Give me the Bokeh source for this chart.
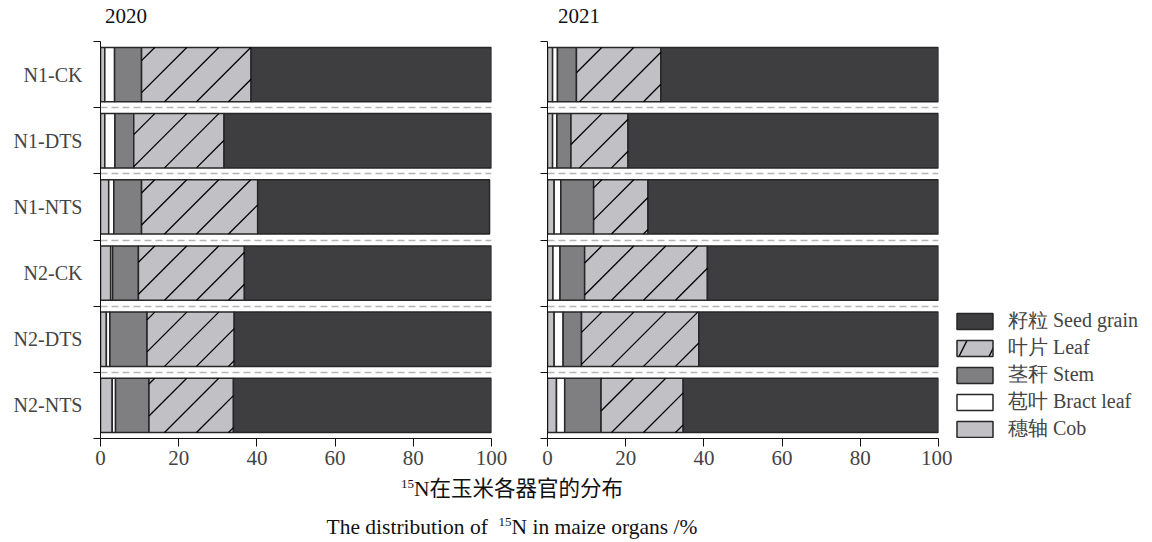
import math
from bokeh.plotting import figure
from bokeh.models import (ColumnDataSource, Range1d, FixedTicker, Legend, LegendItem, Div)
from bokeh.layouts import row, column
from bokeh.embed import file_html
from bokeh.resources import INLINE

categories = ["N1-CK", "N1-DTS", "N1-NTS", "N2-CK", "N2-DTS", "N2-NTS"]
components = ["cob", "bract", "stem", "leaf", "seed"]
legend_order = ["seed", "leaf", "stem", "bract", "cob"]
legend_labels = {"seed": "籽粒 Seed grain", "leaf": "叶片 Leaf", "stem": "茎秆 Stem",
                 "bract": "苞叶 Bract leaf", "cob": "穗轴 Cob"}
x_ticks = [0, 20, 40, 60, 80, 100]
years = ["2020", "2021"]

# 2020
cob_2020 = [1.1, 1.1, 2.1, 2.6, 1.5, 3.0]
bract_2020 = [2.5, 2.6, 1.3, 0.5, 0.9, 0.85]
stem_2020 = [6.9, 4.8, 7.1, 6.6, 9.5, 8.55]
leaf_2020 = [28.0, 23.1, 29.7, 27.1, 22.3, 21.6]
seed_2020 = [61.5, 68.4, 59.3, 63.2, 65.8, 66.0]

# 2021
cob_2021 = [1.3, 1.3, 1.7, 1.4, 1.7, 2.3]
bract_2021 = [1.25, 1.1, 1.7, 1.8, 2.3, 2.1]
stem_2021 = [4.85, 3.6, 8.4, 6.3, 4.7, 9.3]
leaf_2021 = [21.6, 14.6, 13.9, 31.4, 30.0, 21.0]
seed_2021 = [71.0, 79.4, 74.3, 59.1, 61.3, 65.3]

FONT = "'Liberation Serif', 'Noto Sans CJK SC'"
fills = {"cob": "#c1c0c5", "bract": "#ffffff", "stem": "#7f7f81", "leaf": "#c1c0c5", "seed": "#3e3e40"}
OUTLINE = "#262626"
BAR_H = 0.82
FRAME_W, FRAME_H = 391, 397

ypos = [i + 0.5 for i in range(len(categories))]
d2020 = dict(cob=cob_2020, bract=bract_2020, stem=stem_2020, leaf=leaf_2020, seed=seed_2020)
d2021 = dict(cob=cob_2021, bract=bract_2021, stem=stem_2021, leaf=leaf_2021, seed=seed_2021)


def stack(p, src, legend_hatch=False):
    return p.hbar_stack(components, y="y", height=BAR_H, source=src,
                        fill_color=[fills[c] for c in components],
                        line_color=OUTLINE, line_width=1.5,
                        hatch_pattern=["/" if (legend_hatch and c == "leaf") else " " for c in components],
                        hatch_color="#000000", hatch_weight=1.4, hatch_scale=60)


def leaf_hatch(data):
    """45-degree diagonal hatch lines inside each leaf segment (derived from the data)."""
    px_x = FRAME_W / 100.0
    px_y = FRAME_H / float(len(categories))
    run = BAR_H * px_y / px_x          # x-extent of one 45-degree line across the bar
    step = 32.0 / px_x                  # horizontal spacing of the lines
    x0s, y0s, x1s, y1s = [], [], [], []
    for i, yc in enumerate(ypos):
        left = data["cob"][i] + data["bract"][i] + data["stem"][i]
        right = left + data["leaf"][i]
        yb, yt = yc + BAR_H / 2, yc - BAR_H / 2
        k = math.floor((left - run) / step)
        while k * step < right:
            xb = k * step
            t0 = max(0.0, (left - xb) / run)
            t1 = min(1.0, (right - xb) / run)
            if t1 > t0:
                x0s.append(xb + t0 * run); y0s.append(yb + t0 * (yt - yb))
                x1s.append(xb + t1 * run); y1s.append(yb + t1 * (yt - yb))
            k += 1
    return dict(x0=x0s, y0=y0s, x1=x1s, y1=y1s)


def make_panel(data, show_labels, width, border_left, border_right):
    src = ColumnDataSource(dict(y=ypos, **data))
    p = figure(width=width, height=448, output_backend="svg", toolbar_location=None,
               x_range=Range1d(0, 100), y_range=Range1d(len(categories), 0),
               min_border_left=border_left, min_border_right=border_right,
               min_border_top=11, min_border_bottom=40)
    stack(p, src)
    p.segment(x0="x0", y0="y0", x1="x1", y1="y1", source=ColumnDataSource(leaf_hatch(data)),
              line_color="#000000", line_width=1.3)
    p.outline_line_color = None

    p.xaxis.ticker = FixedTicker(ticks=x_ticks)
    p.xaxis.major_tick_out = 8
    p.xaxis.major_tick_in = 0
    p.xaxis.minor_tick_line_color = None
    p.xaxis.major_label_text_font = FONT
    p.xaxis.major_label_text_font_size = "21px"
    p.xaxis.major_label_standoff = 4
    p.xaxis.axis_line_color = "#111111"
    p.xaxis.major_tick_line_color = "#111111"

    boundaries = list(range(len(categories) + 1))
    if show_labels:
        p.yaxis.ticker = FixedTicker(ticks=ypos, minor_ticks=boundaries)
        p.yaxis.major_label_overrides = {y: c for y, c in zip(ypos, categories)}
        p.yaxis.major_label_text_font = FONT
        p.yaxis.major_label_text_font_size = "20px"
        p.yaxis.major_label_standoff = 11
    else:
        p.yaxis.ticker = FixedTicker(ticks=[], minor_ticks=boundaries)
        p.yaxis.major_label_standoff = 0
    p.yaxis.major_tick_out = 0
    p.yaxis.major_tick_in = 0
    p.yaxis.minor_tick_out = 7
    p.yaxis.minor_tick_in = 0
    p.yaxis.minor_tick_line_color = "#111111"
    p.yaxis.axis_line_color = "#111111"

    p.xgrid.grid_line_color = None
    p.ygrid.ticker = FixedTicker(ticks=list(range(1, len(categories))))
    p.ygrid.grid_line_color = "#b4b4b4"
    p.ygrid.grid_line_width = 1.5
    p.ygrid.grid_line_dash = "7 4"
    return p


p1 = make_panel(d2020, True, 527, 100, 36)
p2 = make_panel(d2021, False, 425, 20, 14)

# legend panel: the renderers only feed the legend (no row positions, so nothing is drawn)
p3 = figure(width=192, height=448, output_backend="svg", toolbar_location=None,
            x_axis_type=None, y_axis_type=None, min_border=0,
            x_range=Range1d(0, 100), y_range=Range1d(len(categories), 0))
p3.outline_line_color = None
p3.xgrid.grid_line_color = None
p3.ygrid.grid_line_color = None
rs = stack(p3, ColumnDataSource(dict(y=[float("nan")] * len(categories), **d2020)), legend_hatch=True)
rmap = dict(zip(components, rs))
items = [LegendItem(label=legend_labels[c], renderers=[rmap[c]]) for c in legend_order]
legend = Legend(items=items, location=(0, -4), glyph_width=45, glyph_height=20,
                label_standoff=11, spacing=0, padding=0, margin=0,
                border_line_color=None, background_fill_alpha=0,
                label_text_font="Liberation Serif", label_text_font_size="20px", label_height=20)
p3.add_layout(legend)

top_html = ("<div style=\"position:relative;width:1144px;height:30px;font-family:'Liberation Serif',serif;"
            "font-size:21px;line-height:30px;color:#111;\">"
            "<span style=\"position:absolute;left:105px;top:1px\">" + years[0] + "</span>"
            "<span style=\"position:absolute;left:558px;top:1px\">" + years[1] + "</span></div>")
top_div = Div(text=top_html, width=1144, height=30, margin=(0, 0, 0, 0))

sup = "<span style=\"font-size:13px;vertical-align:8px;line-height:0\">15</span>"
title_html = ("<div style=\"width:1024px;margin-top:-8px;font-family:'Liberation Serif','Noto Sans CJK SC',serif;"
              "font-size:21.5px;text-align:center;line-height:38px;color:#111;\">"
              + sup + "N在玉米各器官的分布<br>"
              "The distribution of &nbsp;" + sup + "N in maize organs /%"
              "</div>")
div = Div(text=title_html, width=1144, height=60, margin=(0, 0, 0, 0))

layout = column(top_div, row(p1, p2, p3, spacing=0), div, spacing=0)
open("out.html", "w").write(file_html(layout, INLINE))
